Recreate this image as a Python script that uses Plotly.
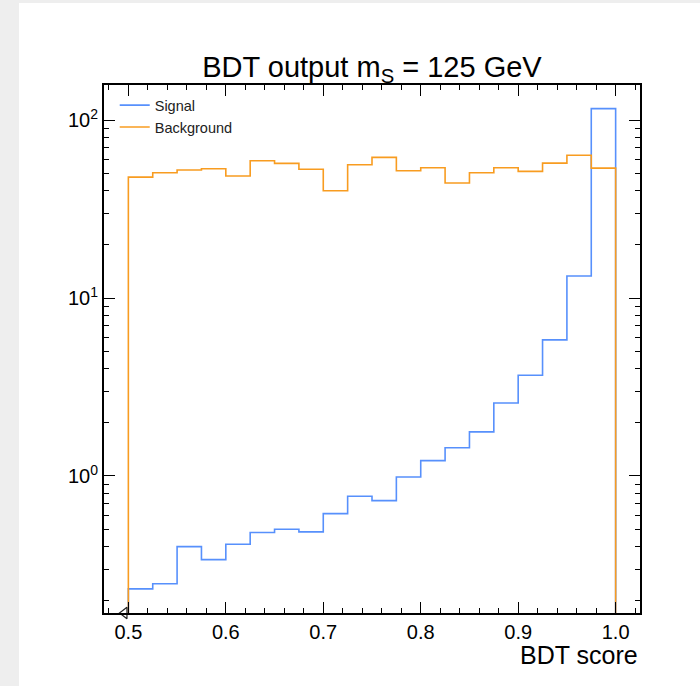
import numpy as np
import plotly.graph_objects as go

# ---- data ----
bin_edges = [0.5 + 0.025 * i for i in range(21)]
signal = [0.232, 0.248, 0.401, 0.339, 0.413, 0.481, 0.502, 0.485, 0.614, 0.769,
          0.727, 0.987, 1.22, 1.44, 1.77, 2.57, 3.68, 5.82, 13.3, 116.0]
background = [47.8, 50.6, 52.4, 53.3, 48.5, 59.1, 57.1, 52.9, 40.1, 56.1,
              61.7, 51.9, 53.9, 44.3, 50.6, 53.9, 51.5, 57.3, 63.4, 53.7]
series_names = ["Signal", "Background"]
series_colors = ["#5790fc", "#f89c20"]
x_tickvals = [0.5, 0.6, 0.7, 0.8, 0.9, 1.0]
x_ticktext = ["0.5", "0.6", "0.7", "0.8", "0.9", "1.0"]
y_tickvals = [1, 10, 100]
y_ticktext = ["10<sup>0</sup>", "10<sup>1</sup>", "10<sup>2</sup>"]

YMIN_LOG, YMAX_LOG = -0.77, 2.197
floor = 1e-4


def step_outline(edges, vals):
    e = np.asarray(edges)
    v = np.asarray(vals)
    xs = np.repeat(e, 2)
    ys = np.concatenate([[floor], np.repeat(v, 2), [floor]])
    return xs, ys


fig = go.Figure()
for name, vals, col in zip(series_names, [signal, background], series_colors):
    xs, ys = step_outline(bin_edges, vals)
    fig.add_trace(go.Scatter(x=xs, y=ys, mode="lines", name=name,
                             line=dict(color=col, width=1.6), showlegend=True))

# small open triangle marker at the lower-left of the histogram
fig.add_trace(go.Scatter(x=[bin_edges[0] - 0.004], y=[10 ** YMIN_LOG], mode="markers",
                         marker=dict(symbol="triangle-left-open", size=10,
                                     color="#222222", line=dict(width=1.2)),
                         cliponaxis=False, showlegend=False, hoverinfo="skip"))

font_family = "Liberation Sans, Arial, Helvetica, sans-serif"

fig.update_layout(
    width=700, height=686,
    margin=dict(l=104, r=60, t=85, b=73),
    paper_bgcolor="#eeeeee",
    plot_bgcolor="white",
    font=dict(family=font_family, color="black"),
    title=dict(text="BDT output m<sub>S</sub> = 125 GeV",
               font=dict(size=29, family=font_family, color="black"),
               x=0.5, xanchor="center", xref="paper",
               y=1, yref="paper", yanchor="bottom", pad=dict(b=8)),
    showlegend=True,
    legend=dict(x=0.02, y=0.992, xanchor="left", yanchor="top",
                bgcolor="rgba(0,0,0,0)", font=dict(size=14.5, color="#222222"),
                tracegroupgap=0),
    shapes=[dict(type="rect", xref="paper", yref="paper",
                 x0=-104 / 536 + 19 / 536, x1=1 + 60 / 536,
                 y0=-73 / 528, y1=1 + (85 - 3) / 528,
                 fillcolor="white", line=dict(width=0), layer="below")],
)

fig.update_xaxes(
    range=[0.475, 1.025],
    tickvals=x_tickvals, ticktext=x_ticktext,
    ticks="inside", ticklen=11, tickwidth=1, tickcolor="black",
    showline=True, linewidth=2, linecolor="black", mirror="ticks",
    showgrid=False, zeroline=False,
    tickfont=dict(size=20, color="black"),
    minor=dict(dtick=0.02, tick0=0.5, ticks="inside", ticklen=5,
               tickwidth=1, tickcolor="black", showgrid=False),
)
fig.update_yaxes(
    type="log", range=[YMIN_LOG, YMAX_LOG],
    tickvals=y_tickvals, ticktext=y_ticktext,
    ticks="inside", ticklen=11, tickwidth=1, tickcolor="black",
    showline=True, linewidth=2, linecolor="black", mirror="ticks",
    showgrid=False, zeroline=False,
    tickfont=dict(size=20, color="black"),
    minor=dict(dtick="D1", ticks="inside", ticklen=5,
               tickwidth=1, tickcolor="black", showgrid=False),
)

fig.add_annotation(text="BDT score", xref="paper", yref="paper",
                   x=1, y=0, xanchor="right", yanchor="top", yshift=-26,
                   showarrow=False, font=dict(size=25, color="black"))

fig.write_html("out.html")
